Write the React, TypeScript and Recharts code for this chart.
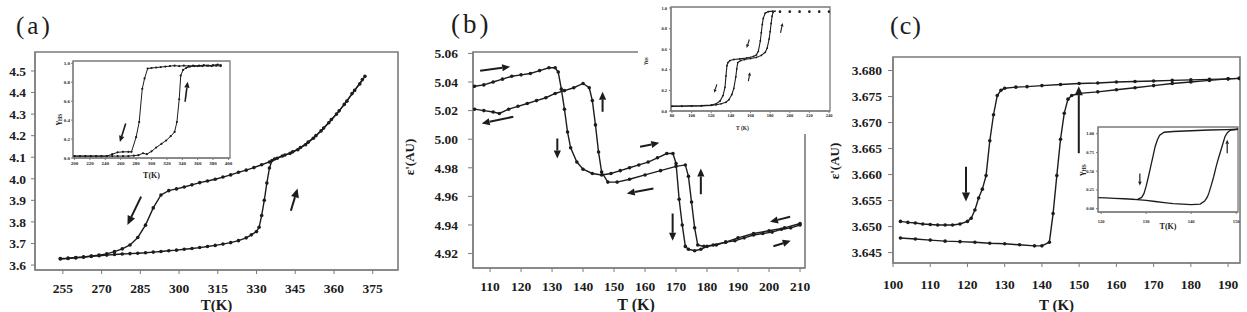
import { LineChart, Line, XAxis, YAxis, ReferenceArea, ReferenceLine } from 'recharts';

const INK = '#1c1c1c';
const FRAME = '#7a7a7a';
const SERIF = '"Liberation Serif", "DejaVu Serif", serif';

// ---- panel (a): ε' vs T, 250-372 K
const aCoolT = [254, 257, 260, 263, 266, 269, 272, 275, 278, 281, 284, 287, 290, 293, 296, 299, 302, 305, 308, 311, 314, 317, 320, 323, 326, 329, 332, 335, 338, 341, 344, 347, 350, 353, 356, 359, 362, 365, 368, 371];
const aCoolV = [3.630, 3.632, 3.635, 3.638, 3.642, 3.646, 3.652, 3.662, 3.675, 3.693, 3.728, 3.785, 3.865, 3.925, 3.945, 3.953, 3.962, 3.972, 3.982, 3.990, 3.998, 4.008, 4.018, 4.030, 4.040, 4.052, 4.065, 4.078, 4.095, 4.110, 4.125, 4.145, 4.170, 4.200, 4.235, 4.275, 4.315, 4.360, 4.410, 4.460];
const aHeatT = [254, 257, 260, 263, 266, 269, 272, 275, 278, 281, 284, 287, 290, 293, 296, 299, 302, 305, 308, 311, 314, 317, 320, 323, 326, 328, 330, 331, 332, 333, 334, 335, 336, 337, 340, 343, 346, 349, 352, 355, 358, 361, 364, 367, 370, 372];
const aHeatV = [3.628, 3.630, 3.633, 3.636, 3.640, 3.643, 3.646, 3.649, 3.651, 3.653, 3.655, 3.657, 3.660, 3.663, 3.666, 3.669, 3.673, 3.677, 3.681, 3.686, 3.691, 3.697, 3.704, 3.713, 3.726, 3.740, 3.755, 3.775, 3.830, 3.900, 3.980, 4.050, 4.085, 4.092, 4.106, 4.118, 4.135, 4.158, 4.188, 4.222, 4.260, 4.300, 4.345, 4.395, 4.440, 4.475];
const aTicksX = [255, 270, 285, 300, 315, 330, 345, 360, 375];
const aTicksY = [3.6, 3.7, 3.8, 3.9, 4.0, 4.1, 4.2, 4.3, 4.4, 4.5];
const aArrows = [[285.3, 3.917, 280.0, 3.786], [343.3, 3.852, 345.9, 3.955]];

// inset (a): γHS vs T
const aiCoolT = [200, 207, 214, 221, 228, 235, 242, 249, 256, 263, 270, 274, 280, 284, 288, 291, 295, 300, 306, 312, 318, 324, 330, 336, 342, 348, 354, 360, 366, 372, 378, 384, 390];
const aiCoolV = [0.02, 0.02, 0.02, 0.02, 0.02, 0.02, 0.02, 0.04, 0.06, 0.065, 0.065, 0.065, 0.22, 0.38, 0.73, 0.84, 0.945, 0.95, 0.955, 0.96, 0.965, 0.97, 0.975, 0.97, 0.975, 0.97, 0.975, 0.97, 0.97, 0.975, 0.97, 0.975, 0.97];
const aiHeatT = [200, 207, 214, 221, 228, 235, 242, 249, 256, 263, 270, 277, 283, 289, 294, 300, 306, 313, 319, 325, 330, 333, 336, 338, 341, 345, 350, 356, 362, 368, 374, 380, 386, 390];
const aiHeatV = [0.02, 0.02, 0.02, 0.02, 0.02, 0.02, 0.02, 0.02, 0.02, 0.02, 0.02, 0.025, 0.03, 0.05, 0.04, 0.07, 0.11, 0.15, 0.185, 0.23, 0.275, 0.38, 0.62, 0.87, 0.93, 0.95, 0.965, 0.97, 0.975, 0.98, 0.975, 0.98, 0.985, 0.98];
const aiTicksX = [200, 220, 240, 260, 280, 300, 320, 340, 360, 380, 400];
const aiTicksY = [0, 0.2, 0.4, 0.6, 0.8, 1.0];
const aiArrows = [[266.5, 0.364, 258.9, 0.17], [343.6, 0.594, 347, 0.806]];

// ---- panel (b): ε' vs T, 105-210 K
const bHeatT = [105, 108, 111, 114, 117, 120, 123, 126, 129, 131, 132, 133, 134, 135, 136, 138, 140, 143, 146, 149, 152, 155, 158, 161, 164, 167, 169, 170, 171, 172, 173, 174, 176, 178, 180, 183, 186, 189, 192, 195, 198, 201, 204, 207, 210];
const bHeatV = [5.037, 5.038, 5.040, 5.042, 5.044, 5.045, 5.046, 5.048, 5.050, 5.050, 5.047, 5.035, 5.021, 5.005, 4.994, 4.984, 4.979, 4.976, 4.975, 4.976, 4.978, 4.980, 4.982, 4.984, 4.987, 4.990, 4.990, 4.983, 4.958, 4.940, 4.925, 4.923, 4.922, 4.923, 4.925, 4.926, 4.928, 4.929, 4.931, 4.933, 4.934, 4.935, 4.937, 4.938, 4.940];
const bCoolT = [105, 108, 111, 113, 116, 119, 122, 125, 128, 131, 134, 137, 140, 142, 143, 144, 145, 146, 148, 151, 155, 160, 165, 170, 173, 174, 175, 176, 177, 179, 182, 186, 190, 195, 200, 205, 210];
const bCoolV = [5.021, 5.020, 5.019, 5.018, 5.021, 5.023, 5.025, 5.027, 5.029, 5.032, 5.034, 5.036, 5.039, 5.036, 5.027, 5.010, 4.991, 4.977, 4.970, 4.970, 4.972, 4.975, 4.978, 4.981, 4.982, 4.974, 4.956, 4.938, 4.926, 4.925, 4.926, 4.928, 4.931, 4.934, 4.936, 4.938, 4.941];
const bTicksX = [110, 120, 130, 140, 150, 160, 170, 180, 190, 200, 210];
const bTicksY = [4.92, 4.94, 4.96, 4.98, 5.0, 5.02, 5.04, 5.06];
const bArrows = [
  [106.8, 5.0479, 116.5, 5.0507], [117.5, 5.0157, 107.3, 5.011], [131.7, 5.0005, 131.7, 4.9865],
  [146.3, 5.0192, 146.3, 5.0332], [158.4, 4.9947, 164.6, 4.9975], [162.7, 4.9655, 154.1, 4.962],
  [168.9, 4.948, 168.9, 4.9289], [178, 4.9615, 178, 4.9795], [206.8, 4.9457, 200.3, 4.9422],
  [201.4, 4.9251, 207, 4.9289],
];

// inset (b): γHS vs T, two-step
const biCoolT = [80, 90, 100, 110, 120, 125, 129, 132, 134, 135, 136, 137, 139, 143, 149, 156, 163, 166, 168, 170, 171, 172, 173, 175, 178, 183];
const biCoolV = [0.048, 0.048, 0.05, 0.052, 0.058, 0.07, 0.097, 0.15, 0.23, 0.34, 0.44, 0.47, 0.49, 0.5, 0.506, 0.515, 0.53, 0.545, 0.58, 0.68, 0.76, 0.84, 0.9, 0.95, 0.965, 0.97];
const biHeatT = [80, 90, 100, 110, 120, 125, 130, 135, 138, 141, 143, 145, 146, 147, 150, 154, 160, 166, 171, 175, 177, 179, 180, 181, 182, 183, 185];
const biHeatV = [0.045, 0.046, 0.048, 0.05, 0.055, 0.06, 0.07, 0.085, 0.11, 0.16, 0.22, 0.33, 0.41, 0.47, 0.49, 0.5, 0.51, 0.52, 0.54, 0.57, 0.61, 0.7, 0.77, 0.85, 0.92, 0.96, 0.97];
const biHighT = [190, 200, 210, 220, 230, 240];
const biHighV = [0.965, 0.965, 0.965, 0.965, 0.965, 0.965];
const biTicksX = [80, 100, 120, 140, 160, 180, 200, 220, 240];
const biTicksY = [0, 0.2, 0.4, 0.6, 0.8, 1.0];
const biArrows = [[125.7, 0.258, 123, 0.177], [158.8, 0.694, 156.1, 0.613], [157.8, 0.29, 159.5, 0.377], [190.6, 0.758, 192.7, 0.855]];

// ---- panel (c): ε' vs T, 100-193 K
const cCoolT = [102, 104, 106, 108, 110, 112, 114, 116, 118, 120, 121, 122, 123, 124, 125, 126, 127, 128, 129, 130, 133, 136, 140, 145, 150, 155, 160, 165, 170, 175, 180, 185, 190, 193];
const cCoolV = [3.6510, 3.6508, 3.6507, 3.6505, 3.6504, 3.6503, 3.6503, 3.6503, 3.6505, 3.6510, 3.6516, 3.6532, 3.6555, 3.6572, 3.6598, 3.6665, 3.6715, 3.6752, 3.6762, 3.6766, 3.6768, 3.6769, 3.6771, 3.6773, 3.6775, 3.6776, 3.6778, 3.6779, 3.6780, 3.6781, 3.6782, 3.6783, 3.6784, 3.6785];
const cHeatT = [102, 106, 110, 114, 118, 122, 126, 130, 134, 138, 140, 142, 143, 144, 145, 146, 147, 148, 150, 155, 160, 165, 170, 175, 180, 185, 190, 193];
const cHeatV = [3.6478, 3.6476, 3.6474, 3.6472, 3.6471, 3.6470, 3.6468, 3.6467, 3.6465, 3.6463, 3.6463, 3.6470, 3.6525, 3.6598, 3.6668, 3.6718, 3.6745, 3.6752, 3.6756, 3.6759, 3.6763, 3.6767, 3.6771, 3.6775, 3.6778, 3.6781, 3.6784, 3.6785];
const cTicksX = [100, 110, 120, 130, 140, 150, 160, 170, 180, 190];
const cTicksY = [3.645, 3.65, 3.655, 3.66, 3.665, 3.67, 3.675, 3.68];
const cArrows = [[119.6, 3.6615, 119.6, 3.6548], [149.9, 3.6641, 149.9, 3.677]];

// inset (c)
const ciCoolT = [119.3, 121, 123, 125, 127, 128, 129, 129.5, 130, 130.5, 131, 131.5, 132, 132.5, 133, 134, 136, 140, 144, 148, 150.4];
const ciCoolV = [0.148, 0.143, 0.138, 0.132, 0.125, 0.121, 0.15, 0.2, 0.3, 0.426, 0.56, 0.695, 0.83, 0.92, 0.98, 1.02, 1.03, 1.04, 1.05, 1.055, 1.06];
const ciHeatT = [128, 130, 132, 134, 136, 138, 140, 142, 143, 143.6, 144, 144.5, 145, 145.5, 146, 146.5, 147, 147.5, 148, 148.5, 149, 150.4];
const ciHeatV = [0.121, 0.11, 0.095, 0.08, 0.067, 0.06, 0.054, 0.06, 0.1, 0.157, 0.22, 0.32, 0.426, 0.55, 0.66, 0.76, 0.86, 0.96, 1.01, 1.04, 1.05, 1.06];
const ciTicksX = [120, 130, 140, 150];
const ciTicksY = [0, 0.25, 0.5, 0.75, 1.0];
const ciArrows = [[128.6, 0.47, 128.6, 0.31], [148, 0.74, 148, 0.92]];

// axis ranges (layout)
const aDomX = [244.2, 384.8];
const aDomY = [3.577, 4.588];
const aiDomX = [198, 402];
const aiDomY = [0, 1.024];
const bDomX = [104.5, 211.6];
const bDomY = [4.9099, 5.061];
const biDomX = [79, 241];
const biDomY = [0, 1.01];
const cDomX = [100, 193.2];
const cDomY = [3.643, 3.6826];
const ciDomX = [119.3, 150.4];
const ciDomY = [-0.045, 1.09];

const zip = (t: number[], v: number[]) => t.map((x, i) => ({ t: x, v: v[i] }));

function arrowShape(head: number, width: number) {
  return (p: any) => {
    const { x1, y1, x2, y2 } = p;
    const dx = x2 - x1;
    const dy = y2 - y1;
    const len = Math.hypot(dx, dy) || 1;
    const ux = dx / len;
    const uy = dy / len;
    const bx = x2 - ux * head;
    const by = y2 - uy * head;
    const hw = head * 0.45;
    return (
      <g>
        <line x1={x1} y1={y1} x2={bx} y2={by} stroke={INK} strokeWidth={width} />
        <polygon points={`${x2},${y2} ${bx - uy * hw},${by + ux * hw} ${bx + uy * hw},${by - ux * hw}`} fill={INK} />
      </g>
    );
  };
}

const arrows = (list: number[][], head: number, width: number) =>
  list.map((s, i) => (
    <ReferenceLine
      key={`arr-${i}`}
      segment={[{ x: s[0], y: s[1] }, { x: s[2], y: s[3] }]}
      shape={arrowShape(head, width)}
      ifOverflow="visible"
    />
  ));

const hTitle = (text: string, dx: number, dy: number, size: number) => (props: any) => {
  const { x, y, width } = props.viewBox;
  return (
    <text x={x + width / 2 + dx} y={y + dy} textAnchor="middle" dominantBaseline="central"
      fontFamily={SERIF} fontWeight={700} fontSize={size} fill={INK}>
      {text}
    </text>
  );
};

const vTitle = (text: string, dx: number, dy: number, size: number, sub?: string) => (props: any) => {
  const { x, y, height } = props.viewBox;
  const cx = x + dx;
  const cy = y + height / 2 + dy;
  return (
    <text x={cx} y={cy} transform={`rotate(-90 ${cx} ${cy})`} textAnchor="middle" dominantBaseline="central"
      fontFamily={SERIF} fontWeight={700} fontSize={size} fill={INK}>
      {text}
      {sub && <tspan fontSize={size * 0.6} dy={size * 0.3}>{sub}</tspan>}
    </text>
  );
};

// tick text drawn by hand so the serif face is certain
const tickFn = (size: number, digits: number, yAxis: boolean) => (p: any) => (
  <text x={p.x} y={p.y} dy={yAxis ? '0.35em' : '0.72em'} textAnchor={yAxis ? 'end' : 'middle'}
    fontFamily={SERIF} fontWeight={700} fontSize={size} fill={INK}>
    {Number(p.payload.value).toFixed(digits)}
  </text>
);

const frame = (dx: number[], dy: number[], w: number) => (
  <ReferenceArea x1={dx[0]} x2={dx[1]} y1={dy[0]} y2={dy[1]} fill="none" fillOpacity={0}
    stroke={FRAME} strokeWidth={w} strokeOpacity={1} ifOverflow="visible" />
);

const mainDot = { r: 1.8, fill: INK, stroke: INK, strokeWidth: 0 };

export default function App() {
  return (
    <div style={{ position: 'absolute', left: 0, top: 0, width: 1247, height: 312, background: '#fff', overflow: 'hidden', fontFamily: SERIF }}>
      <div style={{ position: 'absolute', left: 16, top: 13, fontSize: 25, lineHeight: '25px', letterSpacing: 3, color: INK }}>(a)</div>
      <div style={{ position: 'absolute', left: 451, top: 11, fontSize: 27, lineHeight: '27px', letterSpacing: 3, color: INK }}>(b)</div>
      <div style={{ position: 'absolute', left: 890, top: 13, fontSize: 26, lineHeight: '26px', letterSpacing: 1, color: INK }}>(c)</div>

      {/* main (a) */}
      <div style={{ position: 'absolute', left: 0, top: 0 }}>
        <LineChart width={420} height={312} margin={{ top: 52, right: 22, bottom: 0, left: 0 }}>
          <XAxis dataKey="t" type="number" domain={aDomX} ticks={aTicksX} interval={0} allowDataOverflow height={42}
            stroke={FRAME} tickSize={4} tickMargin={9} tick={tickFn(13.5, 0, false)} label={hTitle('T(K)', 0, 35, 15)} />
          <YAxis type="number" domain={aDomY} ticks={aTicksY} interval={0} allowDataOverflow width={35}
            stroke={FRAME} tickSize={4} tickMargin={5} tick={tickFn(13.5, 1, true)} />
          {frame(aDomX, aDomY, 1.6)}
          <Line data={zip(aCoolT, aCoolV)} dataKey="v" stroke={INK} strokeWidth={1.4} dot={mainDot} isAnimationActive={false} />
          <Line data={zip(aHeatT, aHeatV)} dataKey="v" stroke={INK} strokeWidth={1.4} dot={mainDot} isAnimationActive={false} />
          {arrows(aArrows, 9, 2)}
        </LineChart>
      </div>

      {/* main (b) */}
      <div style={{ position: 'absolute', left: 400, top: 0 }}>
        <LineChart width={440} height={312} margin={{ top: 52, right: 35, bottom: 0, left: 0 }}>
          <XAxis dataKey="t" type="number" domain={bDomX} ticks={bTicksX} interval={0} allowDataOverflow height={44}
            stroke={FRAME} tickSize={4} tickMargin={9} tick={tickFn(13.5, 0, false)} label={hTitle('T (K)', -3, 36, 16)} />
          <YAxis type="number" domain={bDomY} ticks={bTicksY} interval={0} allowDataOverflow width={73}
            stroke={FRAME} tickSize={5} tickMargin={10} tick={tickFn(13.5, 2, true)}
            label={vTitle("ε'(AU)", 9, -3, 13)} />
          {frame(bDomX, bDomY, 1.6)}
          <Line data={zip(bHeatT, bHeatV)} dataKey="v" stroke={INK} strokeWidth={1.4} dot={mainDot} isAnimationActive={false} />
          <Line data={zip(bCoolT, bCoolV)} dataKey="v" stroke={INK} strokeWidth={1.4} dot={mainDot} isAnimationActive={false} />
          {arrows(bArrows, 8, 2)}
        </LineChart>
      </div>

      {/* inset (a) */}
      <div style={{ position: 'absolute', left: 40, top: 55 }}>
        <LineChart width={200} height={130} margin={{ top: 6, right: 10, bottom: 0, left: 0 }}>
          <XAxis dataKey="t" type="number" domain={aiDomX} ticks={aiTicksX} interval={0} allowDataOverflow height={27}
            stroke={FRAME} tickSize={2} tickMargin={1} tick={tickFn(5, 0, false)} label={hTitle('T(K)', 0, 17, 8)} />
          <YAxis type="number" domain={aiDomY} ticks={aiTicksY} interval={0} allowDataOverflow width={33}
            stroke={FRAME} tickSize={2} tickMargin={1} tick={tickFn(5, 1, true)}
            label={vTitle('γ', 17, 10, 9, 'HS')} />
          {frame(aiDomX, aiDomY, 1.3)}
          <Line data={zip(aiCoolT, aiCoolV)} dataKey="v" stroke={INK} strokeWidth={1} dot={{ r: 1.1, fill: INK, strokeWidth: 0 }} isAnimationActive={false} />
          <Line data={zip(aiHeatT, aiHeatV)} dataKey="v" stroke={INK} strokeWidth={1} dot={{ r: 1.1, fill: INK, strokeWidth: 0 }} isAnimationActive={false} />
          {arrows(aiArrows, 6, 1.6)}
        </LineChart>
      </div>

      {/* inset (b) */}
      <div style={{ position: 'absolute', left: 638, top: 0, background: '#fff' }}>
        <LineChart width={202} height={134} margin={{ top: 7, right: 10, bottom: 0, left: 0 }}>
          <XAxis dataKey="t" type="number" domain={biDomX} ticks={biTicksX} interval={0} allowDataOverflow height={23}
            stroke={FRAME} tickSize={2} tickMargin={1} tick={tickFn(4.5, 0, false)} label={hTitle('T (K)', -8, 17, 5.5)} />
          <YAxis type="number" domain={biDomY} ticks={biTicksY} interval={0} allowDataOverflow width={33}
            stroke={FRAME} tickSize={2} tickMargin={2} tick={tickFn(4.5, 1, true)}
            label={vTitle('γ', 7, 2, 6, 'HS')} />
          {frame(biDomX, biDomY, 1.3)}
          <Line data={zip(biCoolT, biCoolV)} dataKey="v" stroke={INK} strokeWidth={1.1} dot={{ r: 0.9, fill: INK, strokeWidth: 0 }} isAnimationActive={false} />
          <Line data={zip(biHeatT, biHeatV)} dataKey="v" stroke={INK} strokeWidth={1.1} dot={{ r: 0.9, fill: INK, strokeWidth: 0 }} isAnimationActive={false} />
          <Line data={zip(biHighT, biHighV)} dataKey="v" stroke="none" dot={{ r: 1.3, fill: INK, strokeWidth: 0 }} isAnimationActive={false} />
          {arrows(biArrows, 3.5, 1.1)}
        </LineChart>
      </div>

      {/* main (c) */}
      <div style={{ position: 'absolute', left: 820, top: 0 }}>
        <LineChart width={427} height={312} margin={{ top: 57, right: 7, bottom: 0, left: 0 }}>
          <XAxis dataKey="t" type="number" domain={cDomX} ticks={cTicksX} interval={0} allowDataOverflow height={49}
            stroke={FRAME} tickSize={4} tickMargin={12} tick={tickFn(13.5, 0, false)} label={hTitle('T (K)', -10, 42, 15)} />
          <YAxis type="number" domain={cDomY} ticks={cTicksY} interval={0} allowDataOverflow width={73}
            stroke={FRAME} tickSize={5} tickMargin={6} tick={tickFn(13.5, 3, true)}
            label={vTitle("ε'(AU)", 14, 1, 13)} />
          {frame(cDomX, cDomY, 1.6)}
          <Line data={zip(cCoolT, cCoolV)} dataKey="v" stroke={INK} strokeWidth={1.4} dot={mainDot} isAnimationActive={false} />
          <Line data={zip(cHeatT, cHeatV)} dataKey="v" stroke={INK} strokeWidth={1.4} dot={mainDot} isAnimationActive={false} />
          {arrows(cArrows, 9, 2)}
        </LineChart>
      </div>

      {/* inset (c) */}
      <div style={{ position: 'absolute', left: 1070, top: 118 }}>
        <LineChart width={177} height={120} margin={{ top: 9, right: 9, bottom: 0, left: 0 }}>
          <XAxis dataKey="t" type="number" domain={ciDomX} ticks={ciTicksX} interval={0} allowDataOverflow height={26}
            stroke={FRAME} tickSize={2} tickMargin={6} tick={tickFn(4.5, 0, false)} label={hTitle('T(K)', 0, 14, 8)} />
          <YAxis type="number" domain={ciDomY} ticks={ciTicksY} interval={0} allowDataOverflow width={28}
            stroke={FRAME} tickSize={2} tickMargin={2} tick={tickFn(4.5, 2, true)}
            label={vTitle('γ', 11, 0.5, 9, 'HS')} />
          {frame(ciDomX, ciDomY, 1.3)}
          <Line data={zip(ciCoolT, ciCoolV)} dataKey="v" stroke={INK} strokeWidth={1.3} dot={false} isAnimationActive={false} />
          <Line data={zip(ciHeatT, ciHeatV)} dataKey="v" stroke={INK} strokeWidth={1.3} dot={false} isAnimationActive={false} />
          {arrows(ciArrows, 4, 1.2)}
        </LineChart>
      </div>
    </div>
  );
}
